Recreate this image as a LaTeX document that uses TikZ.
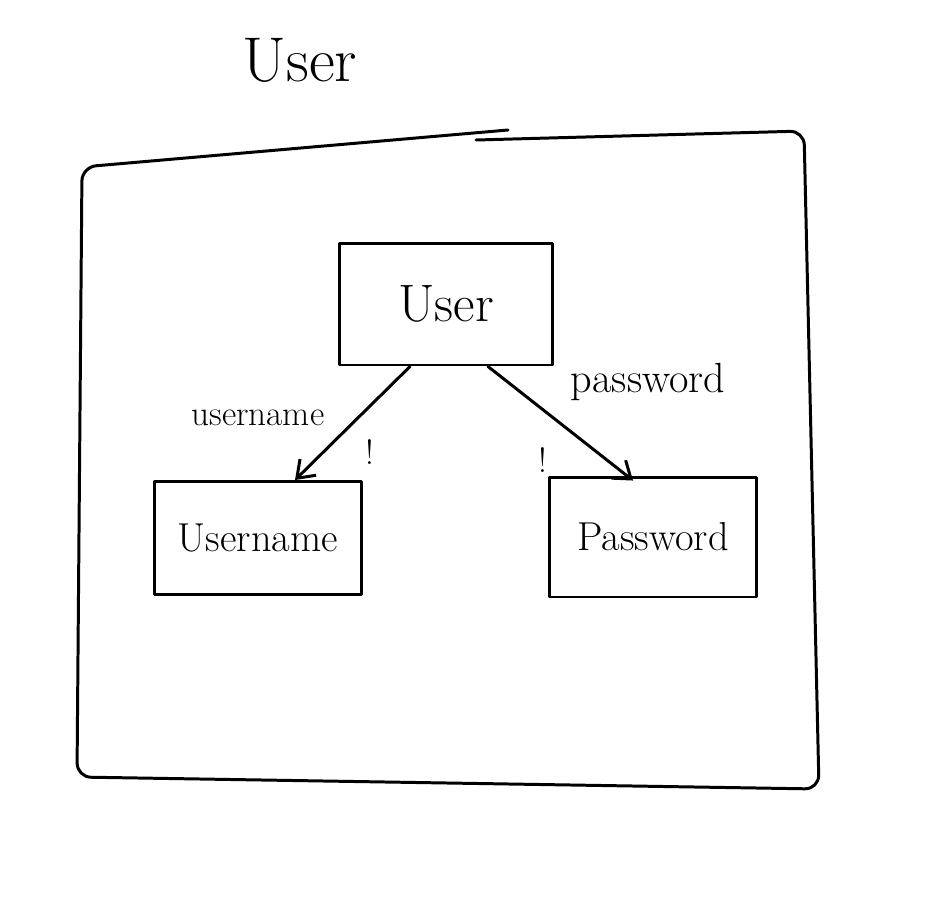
\documentclass[tikz,border=0pt]{standalone}
\usetikzlibrary{arrows.meta}
\definecolor{InkBlack}{rgb}{0.0,0.0,0.0}

\begin{document}
\begin{tikzpicture}[x=0.02cm, y=-0.02cm,
  sketch/.style={InkBlack, line width=1.7pt, line cap=round, line join=round},
  entitybox/.style={sketch, draw, inner sep=0pt},
  linkarrow/.style={sketch, -{Straight Barb[length=9pt, width=13pt, line width=1.7pt]}},
  linklabel/.style={InkBlack, font=\fontsize{20}{22}\selectfont}]

% ============================================================
% Canvas: 945 x 910 px, origin at top left
% ============================================================
\useasboundingbox (0,0) rectangle (945,910);

% Title
\node[InkBlack, font=\fontsize{36}{40}\selectfont] (title) at (300,60) {User};

% Outer frame (top edge drawn in two strokes)
\draw[sketch, rounded corners=8pt] (508,130) -- (82,167) -- (77,777) -- (819,789) -- (804,131) -- (476,140);

% ============================================================
% Entities
% ============================================================
\node[entitybox, minimum width=4.26cm, minimum height=2.44cm,
      font=\fontsize{30}{34}\selectfont] (user) at (446,304) {User};
\node[entitybox, minimum width=4.14cm, minimum height=2.26cm,
      font=\fontsize{23}{26}\selectfont] (username) at (258,538) {Username};
\node[entitybox, minimum width=4.14cm, minimum height=2.40cm,
      font=\fontsize{23}{26}\selectfont] (password) at (653,537) {Password};

% ============================================================
% Links
% ============================================================
\draw[linkarrow] ([xshift=-0.72cm]user.south) -- ([xshift=0.74cm]username.north);
\draw[linkarrow] ([xshift=0.84cm]user.south) -- ([xshift=-0.40cm, yshift=-0.1cm]password.north);

% Link labels
\node[linklabel] (usernamelabel) at (258,418) {username};
\node[linklabel, font=\fontsize{24}{26}\selectfont] (passwordlabel) at (648,382) {password};

% Marks beside the boxes
\node[InkBlack, font=\fontsize{20}{22}\selectfont] (usernamemark) at (370,452) {!};
\node[InkBlack, font=\fontsize{20}{22}\selectfont] (passwordmark) at (543,460) {!};

\end{tikzpicture}
\end{document}
